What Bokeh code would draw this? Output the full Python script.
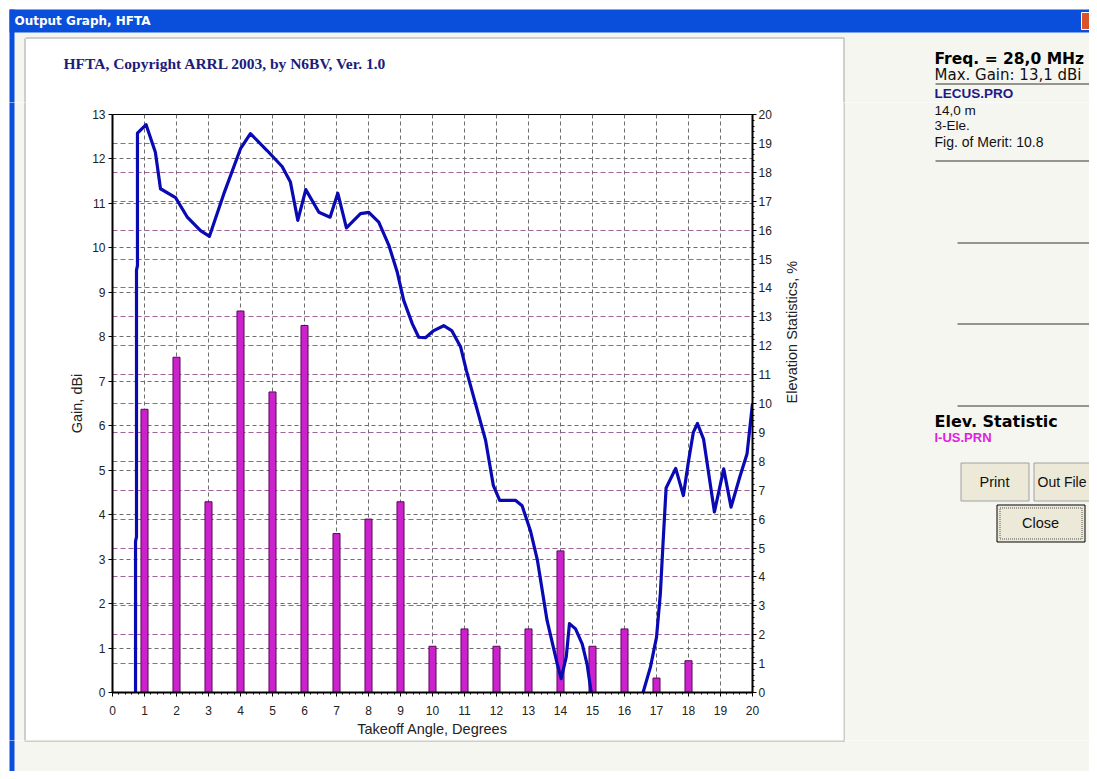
import math
from bokeh.plotting import figure
from bokeh.layouts import column, row
from bokeh.models import Range1d, LinearAxis, Grid, FixedTicker, ColumnDataSource
from bokeh.core.properties import value
from bokeh.embed import file_html
from bokeh.resources import INLINE

# ---------------- data ----------------
angle = [0.72, 0.72, 0.75, 0.75, 0.78, 0.78, 1.05, 1.34, 1.5, 1.97, 2.33, 2.75, 3.03, 3.48,
         4.0, 4.31, 4.83, 5.3, 5.56, 5.79, 6.04, 6.45, 6.8, 7.04, 7.31, 7.75, 8.01, 8.32,
         8.64, 8.9, 9.1, 9.37, 9.57, 9.78, 10.04, 10.35, 10.6, 10.88, 11.06, 11.66, 11.9,
         12.1, 12.6, 12.8, 13.06, 13.28, 13.58, 13.9, 14.02, 14.18, 14.28, 14.47, 14.68,
         14.83, 14.96, 15.4, 15.9, 16.3, 16.58, 16.81, 17.0, 17.12, 17.2, 17.3, 17.6, 17.84,
         18.0, 18.15, 18.28, 18.47, 18.81, 19.1, 19.33, 19.6, 19.83, 20.0]
gain = [0.0, 3.4, 3.5, 9.5, 9.6, 12.58, 12.77, 12.15, 11.33, 11.13, 10.7, 10.39, 10.26, 11.22,
        12.23, 12.57, 12.19, 11.83, 11.48, 10.62, 11.31, 10.8, 10.69, 11.23, 10.45, 10.77, 10.8, 10.58,
        10.05, 9.45, 8.82, 8.29, 7.99, 7.98, 8.14, 8.25, 8.14, 7.77, 7.24, 5.67, 4.66,
        4.32, 4.32, 4.2, 3.64, 2.97, 1.62, 0.64, 0.31, 0.8, 1.55, 1.43, 1.09,
        0.64, 0.0, -1.0, -1.5, -1.0, 0.0, 0.57, 1.24, 2.22, 3.3, 4.6, 5.04, 4.43,
        5.2, 5.85, 6.05, 5.7, 4.06, 5.03, 4.17, 4.84, 5.37, 6.5]

stat_angle = list(range(1, 21))
stat_pct = [9.8, 11.6, 6.6, 13.2, 10.4, 12.7, 5.5, 6.0, 6.6, 1.6,
            2.2, 1.6, 2.2, 4.9, 1.6, 2.2, 0.5, 1.1, 0.0, 0.0]

x_ticks = list(range(0, 21))
gain_ticks = list(range(0, 14))
pct_ticks = list(range(0, 21))

title_text = "HFTA, Copyright ARRL 2003, by N6BV, Ver. 1.0"
window_title = "Output Graph, HFTA"
panel_texts = ["Freq. = 28,0 MHz", "Max. Gain: 13,1 dBi", "LECUS.PRO", "14,0 m", "3-Ele.",
               "Fig. of Merit:  10.8", "Elev. Statistic", "I-US.PRN"]
button_texts = ["Print", "Out File", "Close"]

# ---------------- styles / page geometry ----------------
FONT = "Liberation Sans"
BODY = "#f6f6f1"
BLUE = "#0a4fdc"
FRAME_GREY = "#a4a4a4"
TOTAL_W, TOTAL_H = 1089, 771
TOP_H = 102
MID_H = 740 - TOP_H
LEFT_W = 60
X0R = 843
CHART_W = X0R - LEFT_W
RIGHT_W = TOTAL_W - X0R
BOT_H = TOTAL_H - TOP_H - MID_H
FRAME_L, FRAME_R, FRAME_T, FRAME_B = 112, 752, 114, 692


def no_align(f):
    if "frame_align" in f.properties():
        f.frame_align = False
    return f


def rect(f, x0, y0, x1, y1, fill, line=None, lw=1, dash="solid"):
    f.quad(left=[x0], right=[x1], top=[y0], bottom=[y1],
           fill_color=fill, fill_alpha=1 if fill else 0,
           line_color=line, line_alpha=1 if line else 0, line_width=lw, line_dash=dash)


def hline(f, x0, x1, y, color, width=1):
    f.segment(x0=[x0], y0=[y], x1=[x1], y1=[y], line_color=color, line_width=width,
              line_cap="butt")


def vline(f, x, y0, y1, color, width=1):
    f.segment(x0=[x], y0=[y0], x1=[x], y1=[y1], line_color=color, line_width=width,
              line_cap="butt")


def draw_chrome(f, box):
    bx0, by0, bx1, by1 = box

    def txt(x, y, s, size="12px", style="normal", color="#000000", font=FONT, align="left"):
        if not (bx0 <= x < bx1 and by0 <= y - 8 and y + 8 <= by1):
            return
        f.text(x=[x], y=[y], text=[s], text_font=value(font), text_font_size=value(size),
               text_font_style=style, text_color=color, text_baseline="middle",
               text_align=align)

    # page margin and window frame
    rect(f, -5, -5, TOTAL_W + 5, 9, "#ffffff")
    vline(f, 4.5, by0 - 2, by1 + 2, "#ffffff", 9)
    rect(f, 9, 9, TOTAL_W + 5, 32, BLUE)
    vline(f, 11.5, max(9, by0 - 2), by1 + 2, BLUE, 5)
    rect(f, 1081, 12, TOTAL_W + 5, 29, "#d9542e", "#ffffff")
    txt(14, 20.5, window_title, "12px", "bold", "#ffffff", "DejaVu Sans")
    # graph panel
    rect(f, 25, 38, 843, 740, "#ffffff")
    hline(f, 25, 844, 37.5, FRAME_GREY)
    hline(f, 25, 844, 740.5, FRAME_GREY)
    vline(f, 24.5, 38, 741, FRAME_GREY)
    vline(f, 843.5, 38, 741, FRAME_GREY)
    txt(63, 63, title_text, "15.5px", "bold", "#1c1c7a", "Liberation Serif")
    # right info panel
    panel_y = [58, 74, 92.5, 110, 125, 141, 421, 437]
    panel_style = [("15.5px", "bold", "#000000", "DejaVu Sans"),
                   ("15px", "normal", "#111111", "DejaVu Sans"),
                   ("13.5px", "bold", "#1a1a8c", FONT),
                   ("13.5px", "normal", "#111111", FONT),
                   ("13.5px", "normal", "#111111", FONT),
                   ("14px", "normal", "#111111", FONT),
                   ("16px", "bold", "#000000", "DejaVu Sans"),
                   ("13px", "bold", "#e020e0", FONT)]
    for s, yy, (sz, st, col, fnt) in zip(panel_texts, panel_y, panel_style):
        txt(934, yy, s, sz, st, col, fnt)
    for (x0, yy) in [(935, 83.5), (935, 160.5), (957, 242.5), (957, 323.5), (957, 405.5)]:
        hline(f, x0, TOTAL_W + 5, yy, "#333333")
    rect(f, 960.5, 462.5, 1028.5, 500.5, "#ece9d8", "#a0a0a0")
    rect(f, 1033.5, 462.5, TOTAL_W + 5, 500.5, "#ece9d8", "#a0a0a0")
    rect(f, 996.5, 504.5, 1084.5, 541.5, "#ece9d8", "#000000")
    rect(f, 999.5, 507.5, 1081.5, 538.5, None, "#555555", 1, "1 1")
    txt(994, 481, button_texts[0], "14.5px", "normal", "#111111", FONT, "center")
    txt(1037, 481, button_texts[1], "14px", "normal", "#111111", FONT, "left")
    txt(1040, 522, button_texts[2], "14.5px", "normal", "#111111", FONT, "center")


def deco(w, h, x0, y0):
    f = figure(width=w, height=h, x_range=Range1d(x0, x0 + w), y_range=Range1d(y0 + h, y0),
               min_border=0, toolbar_location=None, output_backend="svg",
               x_axis_location=None, y_axis_location=None)
    f.grid.visible = False
    f.outline_line_color = None
    f.background_fill_color = BODY
    f.border_fill_color = BODY
    draw_chrome(f, (x0, y0, x0 + w, y0 + h))
    return no_align(f)


top = deco(TOTAL_W, TOP_H, 0, 0)
left = deco(LEFT_W, MID_H, 0, TOP_H)
rp = deco(RIGHT_W, MID_H, X0R, TOP_H)
bot = deco(TOTAL_W, BOT_H, 0, TOP_H + MID_H)

# ---------------- chart ----------------
p = figure(width=CHART_W, height=MID_H, output_backend="svg", toolbar_location=None,
           x_range=Range1d(0, 20), y_range=Range1d(0, 13),
           min_border_left=FRAME_L - LEFT_W, min_border_right=X0R - FRAME_R,
           min_border_top=FRAME_T - TOP_H, min_border_bottom=TOP_H + MID_H - FRAME_B)
no_align(p)
p.border_fill_color = "#ffffff"
p.background_fill_color = "#ffffff"
p.outline_line_color = "#000000"
p.outline_line_width = 1
p.extra_y_ranges = {"pct": Range1d(0, 20)}

p.xaxis.ticker = FixedTicker(ticks=x_ticks, minor_ticks=[i / 5 for i in range(0, 101)])
p.yaxis.ticker = FixedTicker(ticks=gain_ticks)
for ax in (p.xaxis[0], p.yaxis[0]):
    ax.axis_line_width = 2
    ax.axis_line_color = "#000000"
    ax.major_tick_in = 0
    ax.major_tick_out = 4
    ax.minor_tick_in = 0
    ax.minor_tick_out = 2
    ax.major_label_text_font = FONT
    ax.major_label_text_font_size = "12px"
    ax.major_label_text_color = "#222222"
    ax.axis_label_text_font = FONT
    ax.axis_label_text_font_size = "14.5px"
    ax.axis_label_text_font_style = "normal"
    ax.axis_label_text_color = "#222222"
p.yaxis.minor_tick_out = 0
p.xaxis.axis_label = "Takeoff Angle, Degrees"
p.yaxis.axis_label = "Gain, dBi"
p.xaxis.major_label_standoff = 9
p.xaxis.axis_label_standoff = 3
p.yaxis.major_label_standoff = 3
p.yaxis.axis_label_standoff = 4

rax = LinearAxis(y_range_name="pct", ticker=FixedTicker(ticks=pct_ticks,
                 minor_ticks=[i / 5 for i in range(0, 101)]),
                 axis_label="Elevation Statistics, %")
rax.axis_line_width = 2
rax.major_tick_in = 0
rax.major_tick_out = 4
rax.minor_tick_in = 0
rax.minor_tick_out = 2
rax.major_label_text_font = FONT
rax.major_label_text_font_size = "12px"
rax.major_label_text_color = "#222222"
rax.major_label_standoff = 2
rax.axis_label_text_font = FONT
rax.axis_label_text_font_size = "14.5px"
rax.axis_label_text_font_style = "normal"
rax.axis_label_text_color = "#222222"
rax.axis_label_standoff = 17
if "axis_label_orientation" in rax.properties():
    rax.axis_label_orientation = math.pi / 2
p.add_layout(rax, "right")

p.xgrid.ticker = FixedTicker(ticks=x_ticks)
p.ygrid.ticker = FixedTicker(ticks=gain_ticks)
for g in (p.xgrid[0], p.ygrid[0]):
    g.grid_line_color = "#6e6e6e"
    g.grid_line_dash = "4 3"
    g.grid_line_width = 1
pgrid = Grid(dimension=1, y_range_name="pct", ticker=FixedTicker(ticks=pct_ticks),
             grid_line_color="#a0609a", grid_line_dash="5 3", grid_line_width=1)
p.add_layout(pgrid)

bar_src = ColumnDataSource(dict(x=stat_angle, top=stat_pct))
p.vbar(x="x", top="top", bottom=0, width=0.22, source=bar_src, y_range_name="pct",
       fill_color="#cc22cc", line_color="#5a0a5a", line_width=1)
line_src = ColumnDataSource(dict(x=angle, y=gain))
p.line(x="x", y="y", source=line_src, line_color="#0a0ab4", line_width=3.2,
       line_join="round")

layout = column(top, row(column(left, spacing=0), column(p, spacing=0),
                         column(rp, spacing=0), spacing=0), bot, spacing=0)
open("out.html", "w").write(file_html(layout, INLINE))
